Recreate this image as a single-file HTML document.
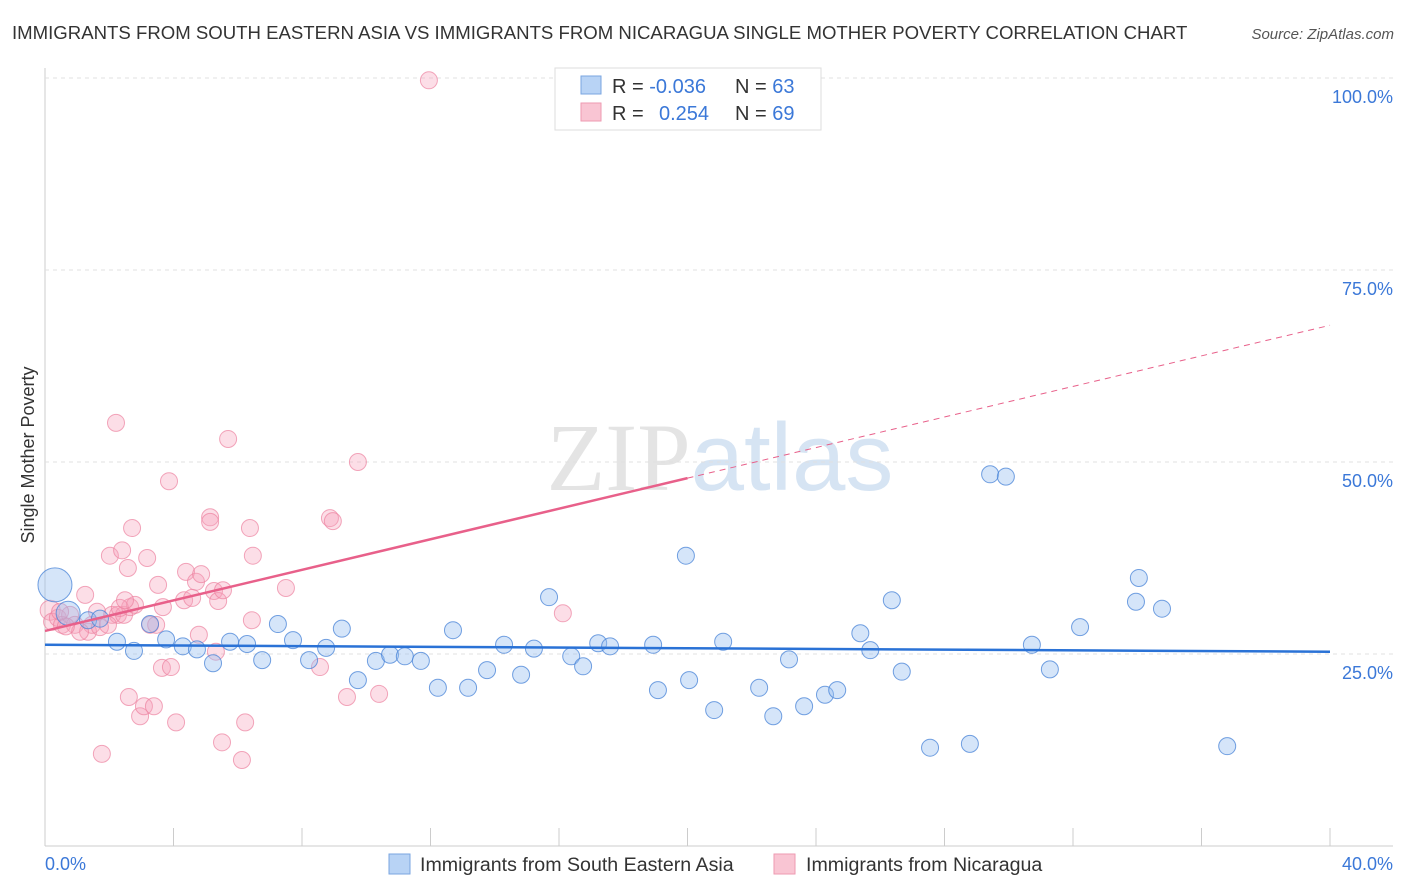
<!DOCTYPE html>
<html><head><meta charset="utf-8"><style>
body{margin:0;background:#fff;font-family:"Liberation Sans",sans-serif;}
svg{display:block}
</style></head><body>
<svg id="chart" width="1406" height="892">
<text x="12" y="39" font-size="18.6" fill="#333">IMMIGRANTS FROM SOUTH EASTERN ASIA VS IMMIGRANTS FROM NICARAGUA SINGLE MOTHER POVERTY CORRELATION CHART</text>
<text x="1394" y="39" font-size="15" fill="#555" font-style="italic" text-anchor="end">Source: ZipAtlas.com</text>
<text x="720" y="490" font-size="96" fill="#e4e4e4" text-anchor="middle" font-family="Liberation Serif,serif">ZIP<tspan fill="#d6e4f3" font-family="Liberation Sans,sans-serif">atlas</tspan></text>
<text transform="translate(34,455) rotate(-90)" font-size="18" fill="#333" text-anchor="middle">Single Mother Poverty</text>
<g id="grid"></g><g id="pts"></g><g id="lines"></g>
<g>
<rect x="555" y="68" width="266" height="62" fill="#fff" stroke="#ddd"/>
<rect x="581" y="76" width="20" height="18" fill="#b8d3f5" stroke="#7aa6e0"/>
<rect x="581" y="103" width="20" height="18" fill="#f9c5d3" stroke="#ee9ab2"/>
<text x="612" y="93" font-size="20" fill="#333">R = <tspan fill="#3b78d8">-0.036</tspan><tspan x="735">N = </tspan><tspan fill="#3b78d8">63</tspan></text>
<text x="612" y="120" font-size="20" fill="#333">R = <tspan x="659" fill="#3b78d8">0.254</tspan><tspan x="735">N = </tspan><tspan fill="#3b78d8">69</tspan></text>
</g>
<g>
<rect x="389" y="854" width="21" height="20" fill="#b8d3f5" stroke="#7aa6e0"/>
<text x="420" y="871" font-size="19.6" fill="#333">Immigrants from South Eastern Asia</text>
<rect x="774" y="854" width="21" height="20" fill="#f9c5d3" stroke="#ee9ab2"/>
<text x="806" y="871" font-size="19.6" fill="#333">Immigrants from Nicaragua</text>
</g>
<text x="45" y="870" font-size="18" fill="#3b78d8">0.0%</text>
<text x="1393" y="870" font-size="18" fill="#3b78d8" text-anchor="end">40.0%</text>
</svg>
<script>
const yTicks=[25,50,75,100];
const yTickLabels=["25.0%","50.0%","75.0%","100.0%"];
const blueX=[0.31,0.72,1.34,1.71,2.24,2.77,3.27,3.77,4.29,4.73,5.23,5.76,6.29,6.76,7.25,7.72,8.22,8.75,9.24,9.74,10.3,10.74,11.2,11.7,12.23,12.7,13.17,13.76,14.29,14.82,15.22,15.69,16.38,16.75,17.22,17.59,18.93,19.08,19.95,20.05,20.83,21.11,22.23,22.67,23.16,23.63,24.28,24.66,25.38,25.69,26.36,26.67,27.55,28.79,29.42,29.91,30.72,31.28,32.22,33.96,34.05,34.77,36.8];
const blueY=[34.0,30.3,29.4,29.6,26.6,25.4,28.9,26.9,26.0,25.6,23.8,26.6,26.3,24.2,28.9,26.8,24.2,25.8,28.3,21.6,24.1,24.9,24.7,24.1,20.6,28.1,20.6,22.9,26.2,22.3,25.7,32.4,24.7,23.4,26.4,26.0,26.2,20.3,37.8,21.6,17.7,26.6,20.6,16.9,24.3,18.2,19.7,20.3,27.7,25.5,32.0,22.7,12.8,13.3,48.4,48.1,26.2,23.0,28.5,31.8,34.9,30.9,13.0];
const pinkX=[0.16,0.22,0.40,0.53,0.78,0.93,1.25,1.34,1.46,1.71,1.62,2.02,2.21,2.40,2.58,2.71,2.09,2.27,2.46,2.65,2.80,3.18,3.27,3.52,3.67,3.86,4.08,4.33,4.39,4.70,4.86,5.14,5.14,5.26,5.39,5.54,5.70,6.38,6.47,6.44,6.23,5.51,6.13,7.50,8.56,8.87,8.96,9.74,9.40,10.40,11.95,16.12,1.77,2.61,2.96,3.08,3.39,3.64,3.92,5.32,4.79,4.58,2.33,1.09,0.65,3.46,0.47,1.96,2.49];
const pinkY=[30.7,29.2,29.7,28.8,30.1,28.8,32.7,27.9,28.8,28.5,30.5,37.8,55.1,38.5,36.2,41.4,30.1,30.1,30.1,31.1,31.4,37.5,28.8,34.0,31.1,47.5,16.1,32.0,35.7,34.4,35.4,42.8,42.2,33.2,31.9,33.3,53.0,41.4,37.8,29.4,16.1,13.5,11.2,33.6,23.3,42.7,42.3,50.0,19.4,19.8,99.7,30.3,12.0,19.4,16.9,18.2,18.2,23.2,23.3,25.3,27.5,32.3,31.0,27.9,28.6,28.8,30.5,28.8,32.0];
const blueSizes=[17,12];
const X0=45,X1=1330,Y0=846,PY=768/100;
const xs=v=>X0+(v/40)*(X1-X0), ys=v=>Y0-v*PY;
const NS="http://www.w3.org/2000/svg";
function mk(t,a,p){const e=document.createElementNS(NS,t);for(const k in a)e.setAttribute(k,a[k]);p.appendChild(e);return e;}
const grid=document.getElementById('grid');
const ax=mk('line',{x1:45,y1:68,x2:45,y2:846,stroke:'#ccc'},grid);


const xa=mk('line',{x1:45,y1:846,x2:1393,y2:846,stroke:'#ccc'},grid);


for(let i=1;i<=10;i++){const t=mk('line',{x1:X0+i*128.5,y1:828,x2:X0+i*128.5,y2:846,stroke:'#ccc'},grid);

}
yTicks.forEach((v,i)=>{const g=mk('line',{x1:45,x2:1393,y1:ys(v),y2:ys(v),stroke:'#e0e0e0','stroke-dasharray':'4,4'},grid);


const t=mk('text',{x:1393,y:ys(v)+25,'font-size':18,fill:'#3b78d8','text-anchor':'end'},grid);t.textContent=yTickLabels[i];

});
const pts=document.getElementById('pts');
pinkX.forEach((x,i)=>{const c=mk('circle',{cx:xs(x),cy:ys(pinkY[i]),r:i==0?10:8.5,fill:'rgba(245,160,185,0.35)',stroke:'rgba(236,130,160,0.7)','stroke-width':1},pts);

});
blueX.forEach((x,i)=>{const c=mk('circle',{cx:xs(x),cy:ys(blueY[i]),r:blueSizes[i]||8.5,fill:'rgba(150,190,240,0.4)',stroke:'rgba(70,130,215,0.75)','stroke-width':1},pts);

});
const lines=document.getElementById('lines');
const bl=mk('line',{x1:xs(0),y1:ys(26.2),x2:xs(40),y2:ys(25.3),stroke:'#2a72d6','stroke-width':2.5},lines);


const pl=mk('line',{x1:xs(0),y1:ys(28.0),x2:xs(20),y2:ys(47.9),stroke:'#e8608a','stroke-width':2.5},lines);


const pd=mk('line',{x1:xs(20),y1:ys(47.9),x2:xs(40),y2:ys(67.8),stroke:'#e8608a','stroke-width':1,'stroke-dasharray':'6,5'},lines);


</script>
</body></html>
